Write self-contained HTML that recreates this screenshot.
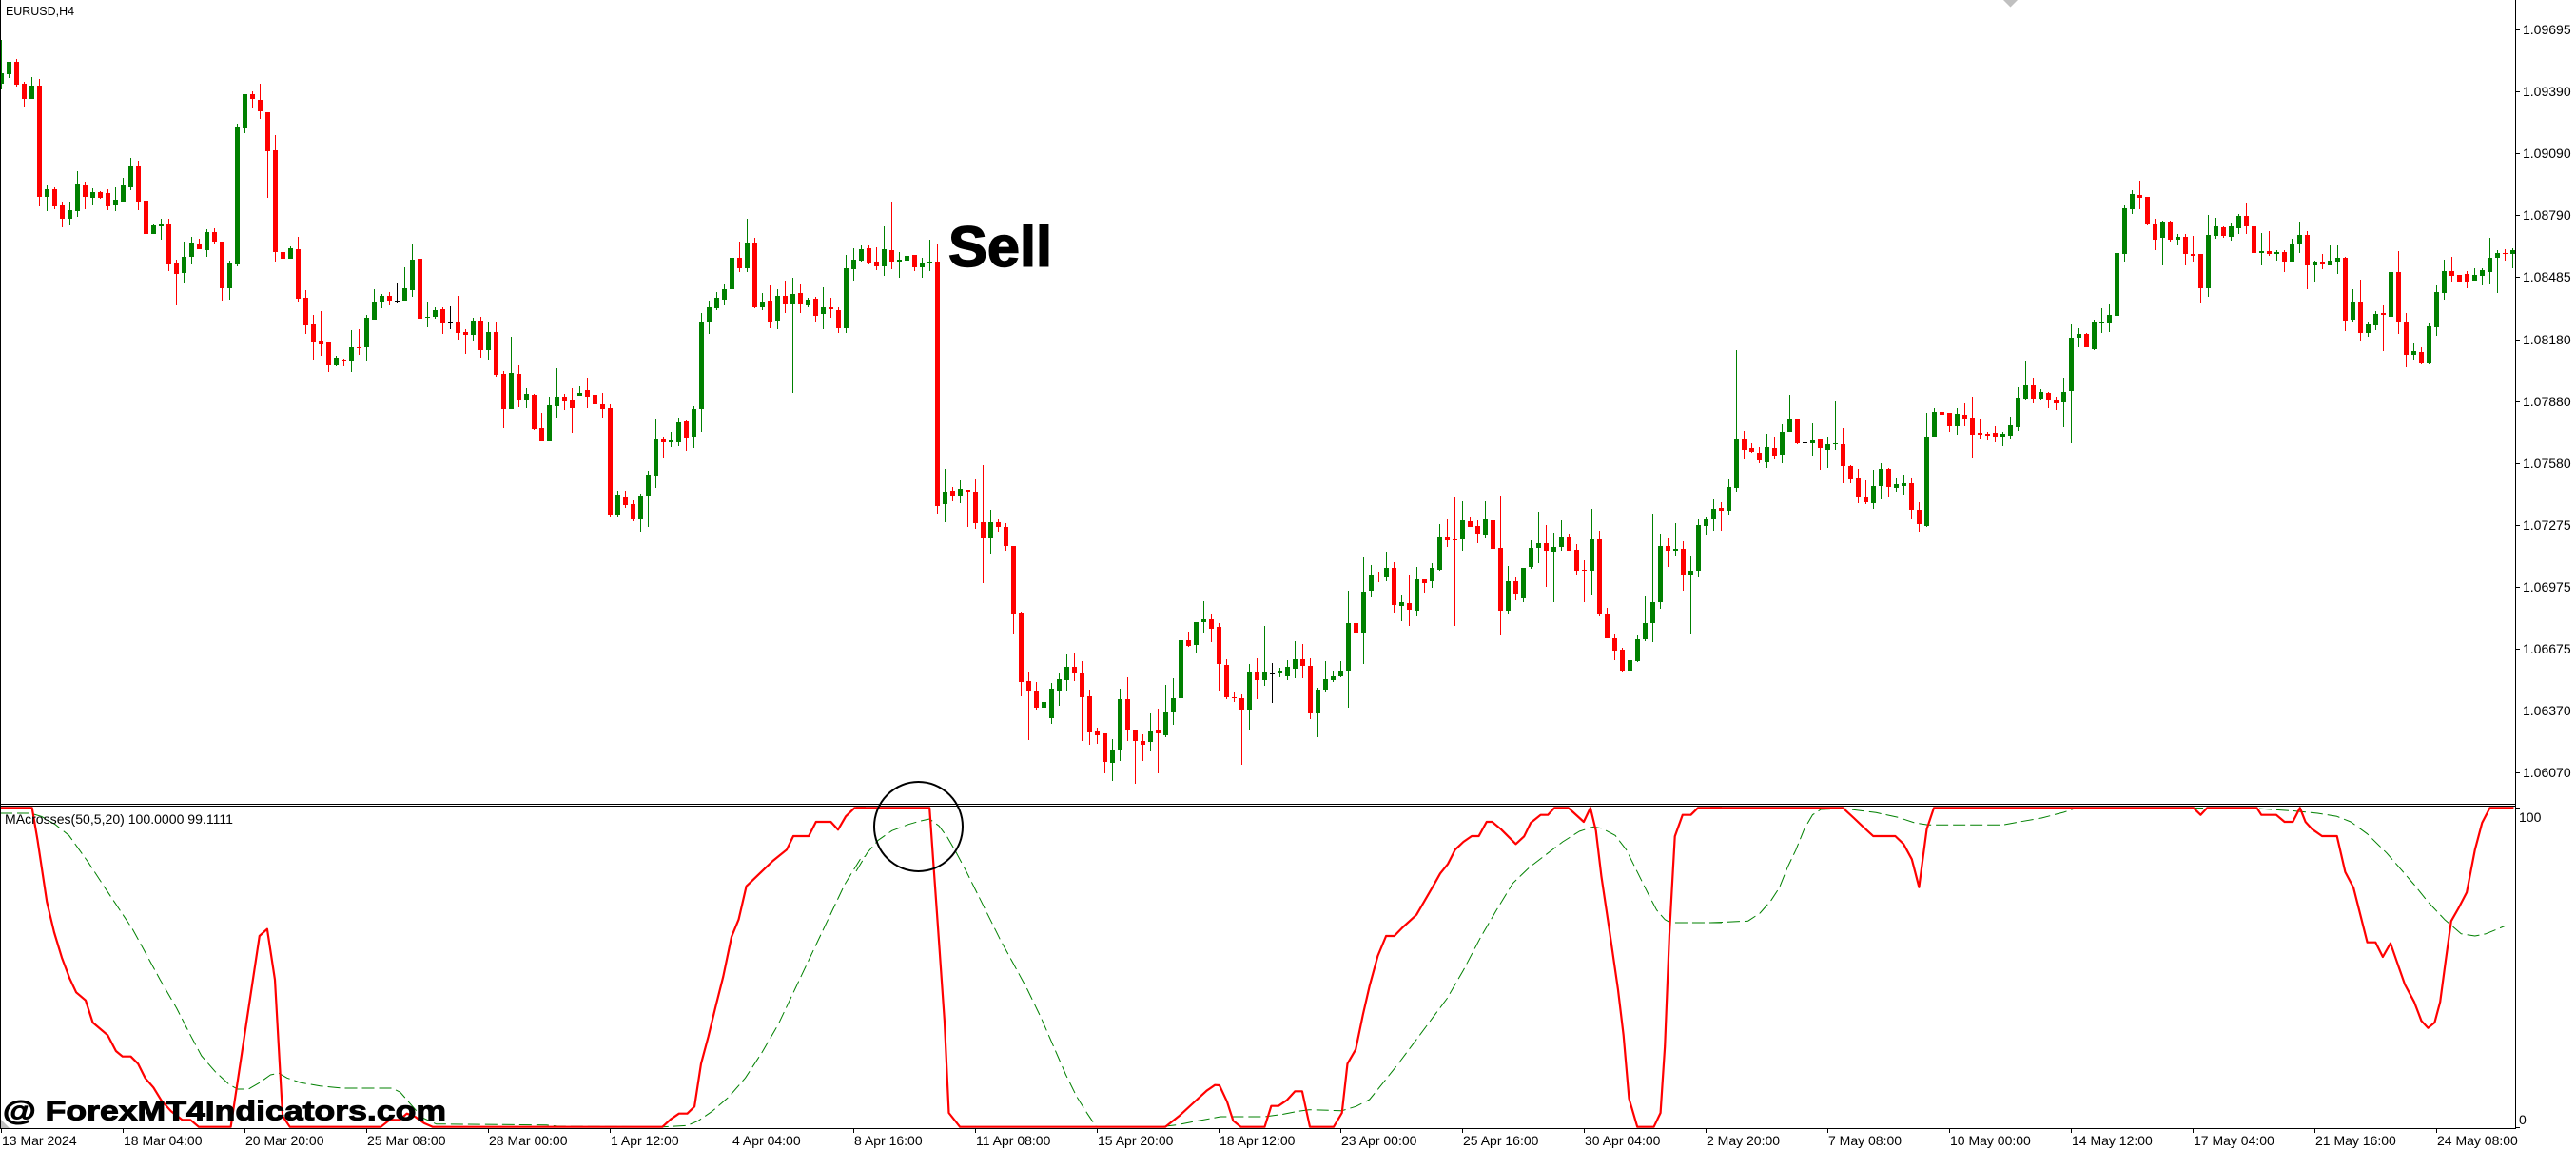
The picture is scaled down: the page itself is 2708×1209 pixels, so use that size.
<!DOCTYPE html>
<html><head><meta charset="utf-8">
<style>
html,body{margin:0;padding:0;background:#fff;}
svg{display:block;}
text{font-family:"Liberation Sans",Arial,sans-serif;}
</style></head><body>
<svg id="s" xmlns="http://www.w3.org/2000/svg" width="2708" height="1209" viewBox="0 0 2708 1209">
<rect width="2708" height="1209" fill="#fff"/>
<g id="cd" shape-rendering="crispEdges"></g>
<g id="ind" fill="none"></g>
<g shape-rendering="crispEdges" fill="#000">
 <rect x="0" y="0" width="1" height="1187"/>
 <rect x="2644" y="0" width="1" height="1187"/>
 <rect x="0" y="845" width="2645" height="1"/>
 <rect x="0" y="847" width="2645" height="1"/>
 <rect x="0" y="1186" width="2645" height="1"/>
</g>
<g id="ax" shape-rendering="crispEdges" fill="#000"></g>
<g id="axt" font-size="14" fill="#000"></g>
<polygon points="2106,0 2121,0 2113.5,7.5" fill="#c0c0c0"/>
<polygon points="1,1177 1,1186 10,1186" fill="#c0c0c0"/>
<text x="6" y="16" font-size="13" fill="#000" textLength="72" lengthAdjust="spacingAndGlyphs">EURUSD,H4</text>
<text x="5" y="866" font-size="14" fill="#000" textLength="240" lengthAdjust="spacingAndGlyphs">MAcrosses(50,5,20) 100.0000 99.1111</text>
<text x="2648" y="864" font-size="14" fill="#000">100</text>
<text x="2648" y="1182" font-size="14" fill="#000">0</text>
<text x="997" y="280" font-size="60" font-weight="bold" fill="#000" stroke="#000" stroke-width="1.5" textLength="109" lengthAdjust="spacingAndGlyphs">Sell</text>
<ellipse cx="965.5" cy="869" rx="46.5" ry="47" fill="none" stroke="#000" stroke-width="2"/>
<text x="3" y="1177.5" font-size="29" font-weight="bold" fill="#000" stroke="#000" stroke-width="1" textLength="466" lengthAdjust="spacingAndGlyphs">@ ForexMT4Indicators.com</text>
</svg>
<script>
(function(){
var segs=[
{start:1,off:0,f:2.6133,d:"G 200 230 110 245|G 170 203 170 213|R 170 233 162 238|R 230 271 224 292|G 235 271 212 271|R 235 540 217 567|G 520 540 510 580|R 520 566 515 575|R 564 600 554 625|G 578 600 555 620|G 505 579 470 595|R 508 540 499 575|G 529 543 518 565|R 528 543 524 546|R 531 566 520 577|G 549 563 516 579|G 510 553 489 553|G 455 514 434 522|R 455 553 442 577|R 551 642 551 660|G 619 644 614 644|G 618 621 602 658|R 617 726 601 745|R 724 752 714 838|G 706 749 664 775|G 666 705 652 726|R 669 684 657 684|G 638 686 631 705|R 638 665 627 668|R 664 793 664 827|G 724 793 716 822|G 350 727 340 733|G 260 354 260 365|R 260 272 251 298|R 274 307 230 326|R 308 415 308 543|R 413 692 371 719|R 693 712 659 719|G 682 712 678 712|R 685 820 651 829|R 818 893 797 916|R 891 942 865 989|R 938 945 855 977|R 942 1003 942 1023|G 983 1003 977 1005|R 988 992 985 1006|G 954 992 907 1021|R 954 956 904 975|G 873 955 865 992|G 828 877 794 877|G 813 828 808 848|R 813 826 802 840|D 825 825 776 833|G 793 825 734 827|G 713 796 669 815|R 711 875 698 890|G 870 874 830 898|G 852 869 845 875|R 849 888 845 918|D 887 887 842 903|R 886 914 813 932|R 911 919 904 971|G 880 919 874 935|R 881 963 869 982|G 912 962 886 988|R 912 1029 883 1034|R 1026 1123 1020 1175|G 1024 1125 926 1125|R 1027 1098 1004 1119|G 1082 1098 1066 1120|R 1085 1178 1082 1180|R 1176 1212 1134 1212|G 1113 1212 1090 1212|G 1090 1115 1012 1148|R 1090 1102 1081 1127|R 1100 1122 1066 1188|G 1079 1087 1062 1088|R 1071 1089 1037 1120|R 1085 1111 1078 1130|R 1111 1124 1080 1148|R 1121 1413 1110 1420|G 1360 1413 1348 1420|R 1363 1388 1348 1395|R 1385 1428 1375 1431|G 1362 1426 1356 1460|G 1304 1362 1294 1448|G 1207 1307 1150 1340|R 1207 1215 1200 1260"},
{start:89,off:150,f:2.24,d:"G 702 706 680 717|G 659 705 647 714|R 656 694 653 725|G 627 693 620 718|G 421 628 402 680|G 388 422 372 451|G 366 390 352 395|G 344 369 334 383|G 270 344 266 362|R 270 295 234 305|G 235 296 179 305|R 235 387 224 389|G 374 387 354 394|R 372 420 336 436|G 361 419 346 440|R 360 380 324 402|G 356 380 318 590|R 354 380 334 402|G 370 382 365 388|R 367 407 363 420|G 388 404 340 439|R 388 393 365 412|R 394 436 388 448|G 296 436 265 447|G 276 297 249 324|G 251 277 242 280|R 249 283 242 287|R 281 292 247 301|G 251 291 196 313|R 252 281 139 297|G 276 280 258 319|G 267 277 260 286|R 265 293 265 303|G 283 294 271 319|G 280 285 228 302|R 280 855 237 874|G 821 852 768 893|R 820 832 811 844|G 815 832 796 848|R 818 822 818 904|R 822 895 792 910|R 894 931 760 1037|G 893 931 865 967|R 893 906 888 917|R 905 949 897 961|R 950 1109 950 1157|R 1106 1269 1105 1304|R 1268 1291 1246 1406|R 1290 1331 1270 1335|G 1317 1331 1300 1335|G 1286 1356 1272 1368|G 1263 1291 1250 1325|G 1234 1265 1204 1290|R 1234 1251 1201 1267|R 1250 1307 1221 1410|R 1304 1388 1288 1417|R 1386 1395 1377 1415|R 1392 1459 1392 1486|G 1430 1461 1404 1504|G 1310 1430 1286 1455|R 1310 1382 1258 1410|R 1382 1410 1382 1510|R 1409 1417 1393 1455|G 1384 1412 1345 1433|R 1382 1392 1333 1485|G 1342 1395 1276 1400|G 1308 1342 1260 1372|G 1172 1308 1131 1342|R 1172 1185 1151 1187|G 1128 1182 1128 1203|G 1122 1128 1080 1155|R 1122 1144 1109 1177|R 1140 1227 1131 1290|R 1229 1305 1216 1311|R 1305 1307 1295 1316|R 1309 1336 1300 1466|G 1248 1336 1228 1383|R 1248 1265 1214 1310|G 1248 1265 1138 1278|D 1251 1251 1225 1320|G 1243 1251 1236 1258|G 1235 1256 1219 1265"},
{start:171,off:150,f:2.24,d:"G 1216 1238 1174 1260|R 1216 1233 1180 1262|R 1232 1345 1215 1357|G 1288 1345 1283 1400|G 1264 1289 1221 1294|G 1257 1265 1243 1270|G 1243 1257 1221 1258|G 1131 1243 1055 1330|R 1131 1155 1113 1258|G 1057 1155 977 1227|G 1018 1056 995 1070|R 1017 1020 1010 1034|G 1001 1023 963 1032|R 1001 1088 988 1106|G 1083 1090 1066 1126|R 1084 1099 1019 1139|G 1028 1101 999 1115|R 1028 1036 1028 1060|G 1001 1032 990 1048|G 930 1006 898 1008|R 930 936 887 951|R 934 936 836 1137|G 889 935 844 960|R 892 904 883 906|R 903 920 889 943|G 887 923 844 931|R 889 956 777 960|R 954 1101 831 1160|G 1033 1101 997 1111|R 1033 1065 1024 1077|G 1001 1072 1001 1081|G 954 998 936 1004|G 944 955 869 991|R 944 962 900 1047|G 952 963 918 1081|G 930 953 889 960|R 930 962 921 962|R 959 1007 945 1020|R 1005 1008 983 1081|G 934 1008 862 1067|R 934 1110 913 1115|R 1109 1166 1096 1168|R 1166 1197 1158 1218|R 1194 1243 1189 1248|G 1219 1243 1216 1276|G 1169 1220 1160 1222|G 1131 1169 1068 1173|G 1082 1132 874 1175|G 950 1083 920 1097|R 950 962 932 998|G 956 961 896 973|R 956 1020 938 1054|G 1008 1020 972 1157|G 900 1009 887 1024|G 886 902 883 922|G 862 888 840 915|R 861 866 847 914|G 811 866 794 875|G 699 812 488 823|R 697 723 679 747|R 720 728 708 730|R 730 748 717 755|G 717 752 685 765|R 719 736 693 745|G 681 734 662 754|G 652 682 594 682|R 652 707 652 711|D 706 706 690 714|G 701 707 661 738|R 699 720 699 770|G 710 723 692 767|G 708 711 609 723|R 710 761 672 801|R 761 792 760 802|R 791 834 768 848|R 833 846 795 852|G 809 848 771 863|G 768 809 755 840|R 768 811 767 834|G 804 814 788 822|G 802 808 781 828|R 802 864 788 888|R 865 898 847 916|G 692 902 636 904|G 634 692 625 692"},
{start:256,off:150,f:2.24,d:"R 634 640 618 645|R 636 667 636 680|G 638 667 625 687|R 641 651 614 668|R 648 687 598 743|R 684 688 651 697|R 686 690 680 702|R 684 693 668 706|G 686 693 680 714|G 665 690 645 700|G 600 669 576 679|G 572 603 515 605|R 572 603 553 613|G 586 603 580 608|R 588 608 586 624|R 607 614 598 630|G 586 611 553 669|G 459 584 427 707|G 451 460 436 482|R 451 482 448 482|G 423 485 416 488|G 423 425 390 448|G 405 425 381 445|G 259 407 188 414|G 155 262 148 279|G 121 157 112 167|R 123 130 90 157|R 127 192 127 195|R 191 228 180 253|G 185 225 183 288|R 187 228 184 234|G 222 228 214 242|R 222 263 216 288|R 262 267 220 281|R 262 342 262 378|G 217 342 170 362|G 197 219 178 227|R 199 219 197 223|G 198 221 189 230|G 172 201 167 215|R 172 197 141 214|R 197 260 178 262|G 255 260 213 288|R 255 262 208 266|G 257 262 254 278|R 258 279 254 304|G 237 279 226 281|G 217 240 187 260|R 217 290 209 344|G 280 290 277 326|R 280 287 263 299|G 278 290 242 290|G 270 279 241 308|R 270 418 268 443|G 374 416 344 420|R 374 447 322 465|G 427 447 420 456|G 403 429 396 442|R 402 406 382 490|G 305 410 296 412|R 305 422 255 451|R 421 500 400 528|G 491 500 473 510|R 493 519 482 523|G 432 520 425 523|G 352 435 337 454|G 302 354 276 369|R 302 313 268 328|R 311 328 311 328|R 309 326 302 342|G 311 324 296 325|G 300 313 296 337|G 271 304 224 333|G 260 271 253 353|R 260 263 250 277|G 254 262 249 296"}
];
var s="";
segs.forEach(function(sg){
  var items=sg.d.split("|");
  items.forEach(function(it,k){
    var p=it.split(" ");
    var t=p[0],bt=+p[1],bb=+p[2],wt=+p[3],wb=+p[4];
    var i=sg.start+k;
    var x=1+8*(i-1);
    var col=t=="G"?"#008000":(t=="R"?"#ff0000":"#000000");
    var Y=function(v){return Math.round(sg.off+v/sg.f);};
    var y1=Y(wt),y2=Y(wb),b1=Y(bt),b2=Y(bb);
    var wh=Math.max(1,y2-y1), bh=Math.max(1,b2-b1);
    s+='<rect x="'+x+'" y="'+y1+'" width="1" height="'+wh+'" fill="'+col+'"/>';
    s+='<rect x="'+(x-2)+'" y="'+b1+'" width="5" height="'+bh+'" fill="'+col+'"/>';
  });
});
document.getElementById("cd").innerHTML=s;

function pl(arr,x0,col,w,dash){
  var pts=[];
  for(var j=0;j<arr.length;j+=2){
    pts.push((x0+arr[j]/1.7231).toFixed(1)+","+(840+arr[j+1]/3).toFixed(1));
  }
  return '<polyline points="'+pts.join(" ")+'" stroke="'+col+'" stroke-width="'+w+'"'+(dash?' stroke-dasharray="'+dash+'"':'')+' stroke-linejoin="round"/>';
}
var g8=[0,45,55,45,75,55,100,80,125,115,160,200,190,280,215,345,240,410,265,490,290,570,320,660,345,745,365,810,390,860,415,900,430,915,450,915,470,895,490,870,505,865,520,880,545,895,580,905,620,912,710,912,725,925,745,965,765,1005,790,1025,990,1028,1010,1032,1200,1034,1245,1030,1265,1015,1290,985,1320,940,1350,880,1380,800,1410,710,1440,600,1470,490,1500,380,1530,270,1560,185,1568,180];
var g9=[0,228,20,170,40,130,65,100,95,80,115,70,133,63,150,85,165,120,180,165,200,230,220,300,240,370,260,440,285,520,310,600,335,690,360,790,380,870,400,940,420,995,435,1034,550,1034,580,1028,620,1015,660,1002,740,1002,770,995,800,985,820,980,880,983,905,970,930,948,950,905,980,840,1010,770,1040,700,1070,630,1100,540,1130,440,1160,350,1190,265,1220,215,1250,175,1280,135,1310,102,1335,88,1350,92,1375,115,1395,160,1415,230,1435,300,1450,350,1465,380,1475,390,1568,390];
var g10=[0,390,68,385,90,360,110,320,125,280,140,215,155,160,170,95,185,50,200,33,240,30,265,35,300,43,340,58,370,75,395,82,530,82,560,72,600,60,640,42,660,30,860,28,990,30,1060,38,1100,45,1135,55,1160,72,1190,110,1225,170,1250,220,1275,270,1300,325,1330,380,1360,425,1385,432,1405,425,1440,400];
var r8=[0,28,58,28,68,130,85,325,98,420,112,500,126,565,138,610,155,635,168,705,195,745,210,795,222,812,237,812,250,835,263,880,278,910,292,950,310,985,330,1012,345,1012,360,1034,418,1034,470,432,484,410,498,570,512,1000,525,1034,690,1034,706,1012,724,1012,737,992,752,1002,768,1022,784,1034,1200,1034,1215,1010,1230,992,1245,992,1258,970,1270,835,1283,750,1297,650,1310,560,1325,435,1338,380,1352,275,1370,245,1385,220,1400,195,1425,160,1437,117,1465,117,1478,72,1505,72,1518,97,1532,55,1548,28,1568,28];
var r9=[0,28,133,28,140,200,150,450,160,700,168,990,188,1034,560,1034,585,1000,610,960,635,920,650,902,658,903,672,955,683,1015,697,1034,740,1034,752,968,765,968,780,950,795,922,808,922,822,1034,865,1034,880,990,890,835,905,790,918,680,930,590,945,495,960,432,975,432,990,405,1015,365,1030,320,1045,275,1058,235,1072,205,1085,160,1100,135,1115,117,1128,117,1142,72,1152,72,1168,95,1195,142,1210,118,1222,75,1240,50,1253,50,1265,28,1290,28,1318,72,1330,28,1340,100,1350,245,1365,420,1380,600,1390,745,1400,945,1415,1034,1445,1034,1457,990,1465,780,1473,430,1483,118,1497,50,1512,50,1525,28,1568,28];
var r10=[0,28,240,28,260,60,275,85,295,117,335,117,350,142,365,190,378,278,392,95,405,28,875,28,888,50,900,28,990,28,998,50,1025,50,1040,72,1055,72,1068,28,1078,72,1090,95,1108,117,1135,117,1150,230,1165,280,1178,370,1190,452,1205,452,1218,498,1232,455,1245,520,1258,585,1275,640,1288,700,1300,722,1312,705,1322,640,1332,510,1342,385,1355,345,1370,295,1385,160,1398,75,1412,28,1455,28];
var h="";
h+=pl(g8,0,"#008000",1,"13 5");
h+=pl(g9,900,"#008000",1,"13 5");
h+=pl(g10,1798,"#008000",1,"13 5");
h+=pl(r8,0,"#ff0000",2.2,null);
h+=pl(r9,900,"#ff0000",2.2,null);
h+=pl(r10,1798,"#ff0000",2.2,null);
document.getElementById("ind").innerHTML=h;

var labs=["1.09695","1.09390","1.09090","1.08790","1.08485","1.08180","1.07880","1.07580","1.07275","1.06975","1.06675","1.06370","1.06070"];
var a="",t="";
labs.forEach(function(l,i){
  var yc=Math.round(31+65.1*i);
  a+='<rect x="2645" y="'+yc+'" width="4" height="1"/>';
  t+='<text x="2652" y="'+(yc+5)+'">'+l+'</text>';
});
a+='<rect x="2645" y="849" width="4" height="1"/><rect x="2645" y="1185" width="4" height="1"/>';
var dates=["13 Mar 2024","18 Mar 04:00","20 Mar 20:00","25 Mar 08:00","28 Mar 00:00","1 Apr 12:00","4 Apr 04:00","8 Apr 16:00","11 Apr 08:00","15 Apr 20:00","18 Apr 12:00","23 Apr 00:00","25 Apr 16:00","30 Apr 04:00","2 May 20:00","7 May 08:00","10 May 00:00","14 May 12:00","17 May 04:00","21 May 16:00","24 May 08:00"];
dates.forEach(function(d,k){
  var x=1+128*k;
  a+='<rect x="'+x+'" y="1187" width="1" height="4"/>';
  t+='<text x="'+(x+1)+'" y="1204">'+d+'</text>';
});
document.getElementById("ax").innerHTML=a;
document.getElementById("axt").innerHTML=t;
})();
</script>
</body></html>
